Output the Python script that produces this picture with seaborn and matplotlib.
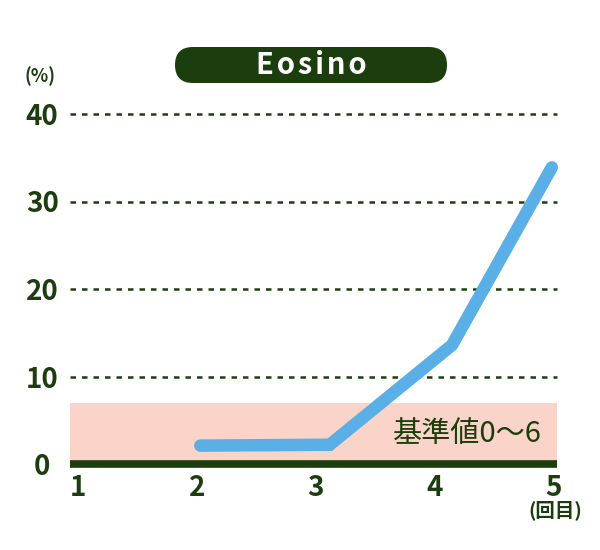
import matplotlib
matplotlib.use("Agg")
import matplotlib.pyplot as plt
import matplotlib.transforms as mtransforms
import seaborn as sns
import pandas as pd
from matplotlib.patches import FancyBboxPatch

sns.set_theme(style="white")
plt.rcParams['font.family'] = ['Noto Sans CJK JP', 'DejaVu Sans']

# data (positions)
rounds = [2.03, 3.12, 4.15, 4.99]
values = [2.1, 2.2, 13.6, 33.9]
x_ticks = [1, 2, 3, 4, 5]
y_ticks = [0, 10, 20, 30, 40]
ref_low, ref_high = 0, 7
title = "Eosino"
ref_label = "基準値0〜6"

DARK = "#1c3d0e"
BLUE = "#5aafe6"
PINK = "#fad4c8"

df = pd.DataFrame({"round": rounds, "value": values})

W, H = 600, 550
fig = plt.figure(figsize=(6, 5.5), dpi=100)
ax = fig.add_axes([70/W, (H-464)/H, 487/W, 41*8.75/H])
px = mtransforms.Affine2D().scale(1/W, 1/H) + fig.transFigure

ax.axhspan(ref_low, ref_high, color=PINK, zorder=0, lw=0)
for yv in y_ticks[1:]:
    ax.axhline(yv, color=DARK, lw=1.8, ls=(0, (2.2, 2.4)), zorder=1, clip_on=False)
ax.axhline(0, color=DARK, lw=5.5, zorder=3, clip_on=False, solid_capstyle="butt")

sns.lineplot(data=df, x="round", y="value", ax=ax, color=BLUE, lw=9,
             solid_capstyle="round", solid_joinstyle="miter", zorder=2)
for ln in ax.get_lines():
    ln.set_clip_on(False)

ax.text(4.907, 3.4, ref_label, ha="right", va="center", fontsize=21,
        color=DARK, zorder=4)

ax.set_xlim(1 - 8/118.75, 5 + 4/118.75)
ax.set_ylim(0, 41)
ax.set_xticks(x_ticks)
ax.set_xticklabels([str(v) for v in x_ticks])
ax.set_yticks(y_ticks)
ax.set_yticklabels([str(v) for v in y_ticks])
for lab in ax.get_xticklabels() + ax.get_yticklabels():
    lab.set_fontweight("bold")
    lab.set_fontsize(20)
    lab.set_color(DARK)
for lab in ax.get_yticklabels():
    lab.set_horizontalalignment("center")
ax.tick_params(axis="y", length=0, pad=20)
ax.tick_params(axis="x", length=0, pad=7)
ax.set_xlabel("")
ax.set_ylabel("")
for s in ax.spines.values():
    s.set_visible(False)

# title pill (pixel coordinates)
pill = FancyBboxPatch((175, H-83), 272, 36,
                      boxstyle="round,pad=0,rounding_size=18",
                      transform=px, facecolor=DARK, edgecolor="none")
fig.patches.append(pill)
spaced_title = "\u200a".join(title)
fig.text(311/W, (H-65)/H, spaced_title, ha="center", va="center", color="white",
         fontsize=21, fontweight="bold", family=['DejaVu Sans'] if False else ['Noto Sans CJK JP', 'DejaVu Sans'])

fig.text(40/W, (H-76)/H, "(%)", ha="center", va="center", color=DARK,
         fontsize=13, fontweight="bold")
fig.text(555/W, (H-510)/H, "(回目)", ha="center", va="center", color=DARK,
         fontsize=14, fontweight="bold")

fig.savefig("out.png", dpi=100)
